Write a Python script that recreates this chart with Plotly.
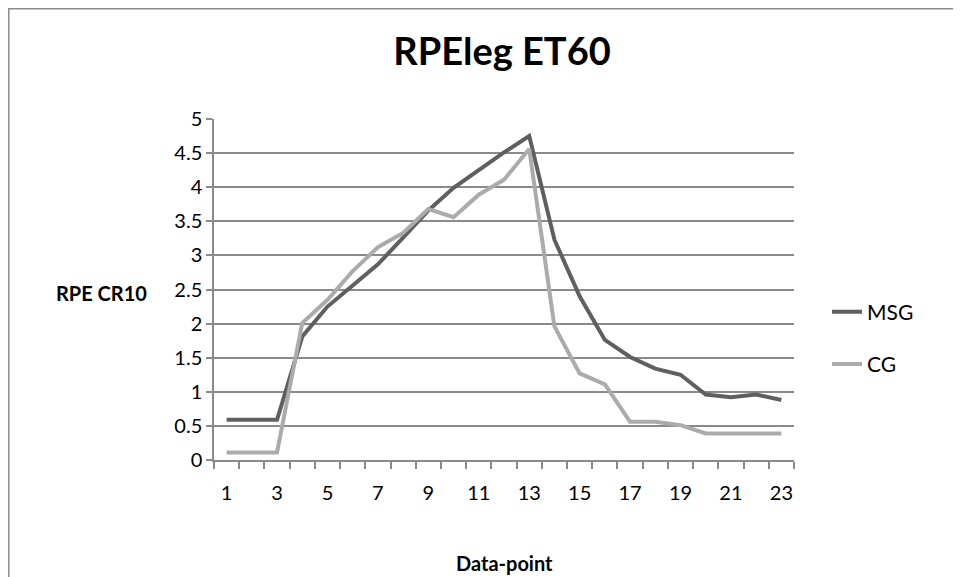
import plotly.graph_objects as go

data_points = list(range(1, 24))
msg = [0.59, 0.59, 0.59, 1.81, 2.25, 2.56, 2.87, 3.26, 3.66, 3.99, 4.25, 4.51, 4.75,
       3.23, 2.40, 1.76, 1.51, 1.34, 1.25, 0.96, 0.92, 0.96, 0.88]
cg = [0.11, 0.11, 0.11, 2.01, 2.35, 2.77, 3.12, 3.33, 3.68, 3.56, 3.89, 4.11, 4.56,
      1.96, 1.27, 1.11, 0.56, 0.56, 0.51, 0.39, 0.39, 0.39, 0.39]
x_tick_vals = list(range(1, 24, 2))
y_tick_vals = [0, 0.5, 1, 1.5, 2, 2.5, 3, 3.5, 4, 4.5, 5]

FONT = "Lato"
W, H = 953, 569
L, R, T, B = 206, 167, 111, 117
PW, PH = W - L - R, H - T - B


def px(x):
    return (x - L) / PW


def py(y):
    return (H - B - y) / PH


fig = go.Figure()
fig.add_trace(go.Scatter(x=data_points, y=msg, mode="lines", name="MSG",
                         line=dict(color="#5f5f5f", width=4), legendgroup="a"))
fig.add_trace(go.Scatter(x=data_points, y=cg, mode="lines", name="CG",
                         line=dict(color="#ababab", width=4), legendgroup="b"))

fig.update_layout(
    width=W, height=H,
    margin=dict(l=L, r=R, t=T, b=B),
    paper_bgcolor="white", plot_bgcolor="white",
    font=dict(family=FONT, size=20, color="black"),
    title=dict(text="<b>RPEleg ET60</b>", font=dict(family=FONT, size=38, color="black"),
               x=494 / W, xref="container", xanchor="center",
               y=1 - 44 / H, yref="container", yanchor="middle"),
    showlegend=True,
    legend=dict(x=px(819), y=py(330), xanchor="left", yanchor="middle",
                font=dict(family=FONT, size=21), tracegroupgap=22,
                bgcolor="rgba(0,0,0,0)"),
    xaxis=dict(range=[0.5, 23.5], tickmode="array", tickvals=x_tick_vals,
               ticks="", showgrid=False, showline=True, linecolor="#8a8a8a", linewidth=1.5,
               zeroline=False, tickfont=dict(family=FONT, size=20), ticklabelstandoff=14,
               minor=dict(ticks="outside", tick0=0.5, dtick=1, ticklen=7,
                          tickcolor="#8a8a8a", tickwidth=1.5, showgrid=False)),
    yaxis=dict(range=[0, 5], tickmode="array", tickvals=y_tick_vals,
               ticktext=[f"{v:g}" for v in y_tick_vals],
               ticks="outside", ticklen=6, tickcolor="#8a8a8a", tickwidth=1.5,
               showgrid=True, gridcolor="#8a8a8a", gridwidth=1.5,
               showline=True, linecolor="#8a8a8a", linewidth=1.5, zeroline=False,
               tickfont=dict(family=FONT, size=20)),
    shapes=[dict(type="rect", xref="paper", yref="paper",
                 x0=px(0.8), x1=px(W + 50), y0=py(H + 50), y1=py(0.8),
                 line=dict(color="#8a8a8a", width=1.5), fillcolor="rgba(0,0,0,0)",
                 layer="below")],
    annotations=[
        dict(text="<b>RPE CR10</b>", xref="paper", yref="paper",
             x=px(141), y=py(285), xanchor="right", yanchor="middle",
             showarrow=False, font=dict(family=FONT, size=20, color="black")),
        dict(text="<b>Data-point</b>", xref="paper", yref="paper",
             x=px(497), y=py(555), xanchor="center", yanchor="middle",
             showarrow=False, font=dict(family=FONT, size=20, color="black")),
    ],
)

fig.write_html("out.html")
